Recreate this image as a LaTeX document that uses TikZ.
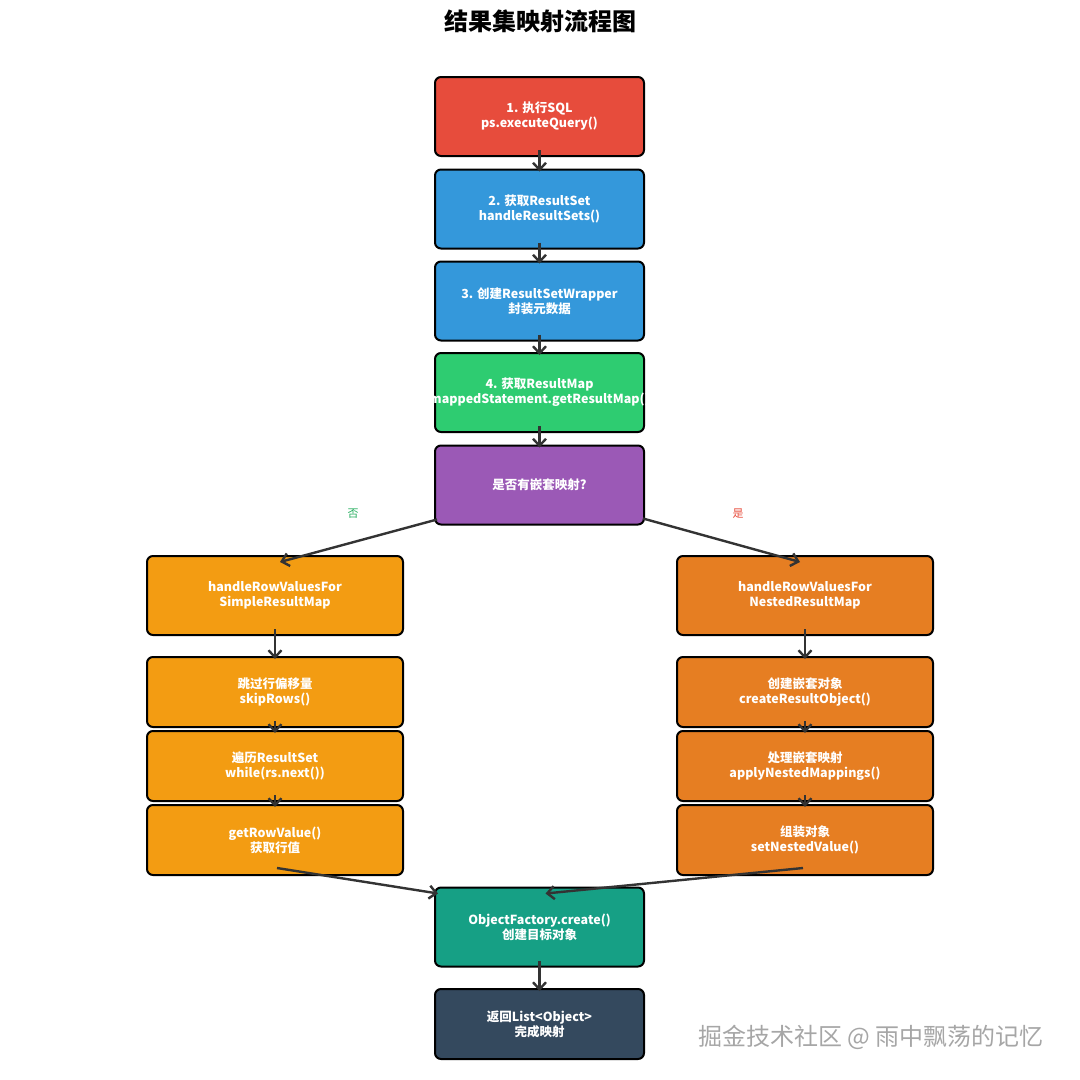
\documentclass[tikz,border=0pt]{standalone}
\usepackage{fontspec}
\setmainfont{Noto Sans CJK SC}
\usepackage{tikz}
\usetikzlibrary{arrows.meta,positioning}

\definecolor{execred}{HTML}{E74C3C}
\definecolor{fetchblue}{HTML}{3498DB}
\definecolor{mapgreen}{HTML}{2ECC71}
\definecolor{askpurple}{HTML}{9B59B6}
\definecolor{simpleorange}{HTML}{F39C12}
\definecolor{nestedorange}{HTML}{E67E22}
\definecolor{createteal}{HTML}{16A085}
\definecolor{returnnavy}{HTML}{34495E}
\definecolor{arrowgray}{HTML}{333333}
\definecolor{nogreen}{HTML}{27AE60}

\begin{document}
\begin{tikzpicture}[
            x=1pt,
            y=-1pt,
            box/.style={
                    rectangle,
                    rounded corners=6pt,
                    draw=black,
                    line width=2pt,
                    align=center,
                    text=white,
                    minimum width=209pt,
                    minimum height=79pt,
                    font=\fontsize{12.5}{15}\selectfont\bfseries
                },
            widebox/.style={
                    box,
                    minimum width=256pt
                },
            shortbox/.style={
                    minimum height=70pt
                },
            flow/.style={
                    draw=arrowgray,
                    line width=2.4pt,
                    -{Straight Barb[length=7pt,width=13pt,line width=2.4pt]}
                },
            branch/.style={
                    font=\fontsize{11}{11}\selectfont
                }
        ]

        \useasboundingbox (0,0) rectangle (1080,1080);

        \node[font=\fontsize{24}{24}\selectfont\bfseries] (title) at (540,21) {结果集映射流程图};

        % main column
        \node[box, fill=execred] (exec) at (539.5,116.5) {1. 执行SQL\\ps.executeQuery()};
        \node[box, fill=fetchblue] (rset) at (539.5,209) {2. 获取ResultSet\\handleResultSets()};
        \node[box, fill=fetchblue] (wrap) at (539.5,301) {3. 创建ResultSetWrapper\\封装元数据};
        \node[box, fill=mapgreen] (rmap) at (539.5,392.5) {4. 获取ResultMap\\\makebox[0pt]{mappedStatement.getResultMap()}};
        \node[box, fill=askpurple] (nested) at (539.5,485) {是否有嵌套映射?};

        % simple result map
        \node[widebox, fill=simpleorange] (simple) at (275,595.5) {handleRowValuesFor\\SimpleResultMap};
        \node[widebox, shortbox, fill=simpleorange] (skip) at (275,692) {跳过行偏移量\\skipRows()};
        \node[widebox, shortbox, fill=simpleorange] (loop) at (275,766) {遍历ResultSet\\while(rs.next())};
        \node[widebox, shortbox, fill=simpleorange] (rowval) at (275,840) {getRowValue()\\获取行值};

        % nested result map
        \node[widebox, fill=nestedorange] (nestmap) at (805,595.5) {handleRowValuesFor\\NestedResultMap};
        \node[widebox, shortbox, fill=nestedorange] (nestobj) at (805,692) {创建嵌套对象\\createResultObject()};
        \node[widebox, shortbox, fill=nestedorange] (nestapply) at (805,766) {处理嵌套映射\\applyNestedMappings()};
        \node[widebox, shortbox, fill=nestedorange] (nestset) at (805,840) {组装对象\\setNestedValue()};

        \node[box, fill=createteal] (factory) at (539.5,927) {ObjectFactory.create()\\创建目标对象};
        \node[box, shortbox, fill=returnnavy] (result) at (539.5,1024) {返回List<Object>\\完成映射};

        \node[branch, text=nogreen] (no) at (353,514) {否};
        \node[branch, text=execred] (yes) at (738,514) {是};

        \node[font=\fontsize{24}{24}\selectfont, text=gray!70] (mark) at (871,1037) {掘金技术社区 @ 雨中飘荡的记忆};

        % arrows
        \draw[flow] ([yshift=7pt]exec.south) -- ([yshift=-3pt]rset.north);
        \draw[flow] ([yshift=7pt]rset.south) -- ([yshift=-3pt]wrap.north);
        \draw[flow] ([yshift=7pt]wrap.south) -- ([yshift=-3pt]rmap.north);
        \draw[flow] ([yshift=7pt]rmap.south) -- ([yshift=-3pt]nested.north);
        \draw[flow] ([xshift=3pt,yshift=6pt]nested.south west) -- ([xshift=5pt,yshift=-7pt]simple.north);
        \draw[flow] ([xshift=-2pt,yshift=7pt]nested.south east) -- ([xshift=-5pt,yshift=-7pt]nestmap.north);
        \draw[flow] ([yshift=7pt]simple.south) -- ([yshift=-3pt]skip.north);
        \draw[flow] ([yshift=7pt]skip.south) -- ([yshift=-3pt]loop.north);
        \draw[flow] ([yshift=7pt]loop.south) -- ([yshift=-3pt]rowval.north);
        \draw[flow] ([yshift=7pt]nestmap.south) -- ([yshift=-3pt]nestobj.north);
        \draw[flow] ([yshift=7pt]nestobj.south) -- ([yshift=-3pt]nestapply.north);
        \draw[flow] ([yshift=7pt]nestapply.south) -- ([yshift=-3pt]nestset.north);
        \draw[flow] ([xshift=2pt,yshift=8pt]rowval.south) -- ([xshift=4pt,yshift=-7pt]factory.north west);
        \draw[flow] ([xshift=-2pt,yshift=8pt]nestset.south) -- ([xshift=6pt,yshift=-7pt]factory.north);
        \draw[flow] ([yshift=7pt]factory.south) -- ([yshift=-3pt]result.north);

    \end{tikzpicture}
\end{document}
